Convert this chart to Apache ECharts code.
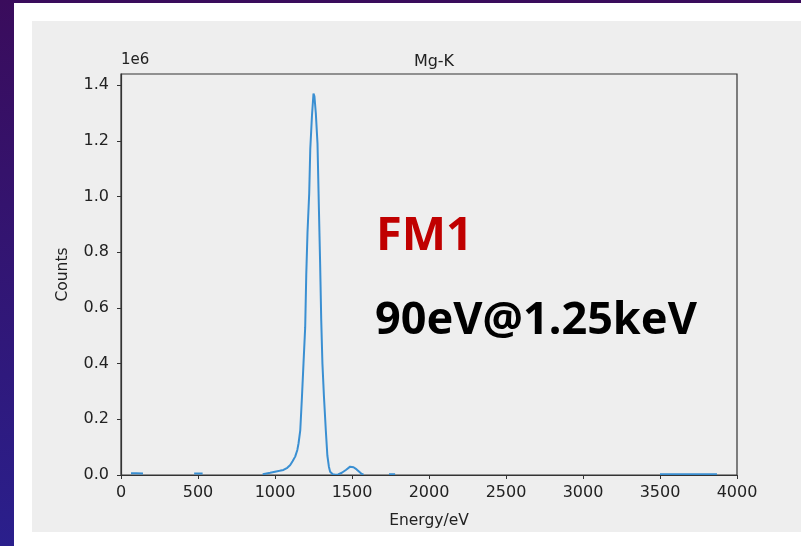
<!DOCTYPE html>
<html>
<head>
<meta charset="utf-8">
<script src="https://cdn.jsdelivr.net/npm/echarts@6/dist/echarts.min.js"></script>
<style>
html,body{margin:0;padding:0;background:#fff;}
#chart{width:801px;height:546px;}
</style>
</head>
<body>
<div id="chart"></div>
<script>
// Energy (eV) sample points and counts (in units of 1e6); null = no visible signal (hidden under axis)
var energy = [50, 65, 100, 143, 155, 460, 475, 530, 545, 880, 920, 969, 1000, 1030, 1055, 1080, 1099, 1115, 1131, 1145, 1153, 1164, 1175, 1185, 1196, 1203, 1211, 1222, 1229, 1240, 1250, 1256, 1265, 1276, 1285, 1293, 1300, 1308, 1318, 1330, 1340, 1350, 1358, 1375, 1391, 1410, 1434, 1460, 1488, 1510, 1530, 1542, 1560, 1575, 1600, 1740, 1760, 1780, 1800, 3500, 3600, 3700, 3800, 3870, 3900];
var counts = [null, 0.006, 0.006, 0.005, null, null, 0.005, 0.005, null, null, 0.003, 0.008, 0.012, 0.015, 0.018, 0.026, 0.036, 0.05, 0.066, 0.09, 0.114, 0.16, 0.28, 0.40, 0.53, 0.72, 0.87, 1.01, 1.17, 1.29, 1.37, 1.36, 1.30, 1.19, 0.96, 0.76, 0.56, 0.40, 0.28, 0.16, 0.07, 0.03, 0.012, 0.003, 0.001, 0.002, 0.008, 0.018, 0.030, 0.028, 0.02, 0.013, 0.005, 0.001, null, 0.003, 0.003, 0.003, null, 0.003, 0.003, 0.003, 0.003, 0.003, null];
var yTicks = [0, 0.2, 0.4, 0.6, 0.8, 1.0, 1.2, 1.4];
var xTicks = [0, 500, 1000, 1500, 2000, 2500, 3000, 3500, 4000];
var titleText = 'Mg-K';
var xName = 'Energy/eV';
var yName = 'Counts';
var yScaleText = '1e6';
var noteLabel = 'FM1';
var noteText = '90eV@1.25keV';

var points = energy.map(function (e, i) { return [e, counts[i]]; });

var chart = echarts.init(document.getElementById('chart'), null, {renderer: 'canvas'});
var font = 'DejaVu Sans';
chart.setOption({
  animation: false,
  backgroundColor: '#ffffff',
  graphic: [
    {type: 'rect', z: -10, shape: {x: 0, y: 0, width: 801, height: 3}, style: {fill: '#3a0c5c'}},
    {type: 'rect', z: -10, shape: {x: 0, y: 0, width: 14, height: 546},
      style: {fill: new echarts.graphic.LinearGradient(0, 0, 0, 1, [{offset: 0, color: '#3a0c5c'}, {offset: 1, color: '#2a1f8c'}])}},
    {type: 'rect', z: -9, shape: {x: 32, y: 21, width: 769, height: 511}, style: {fill: '#eeeeee'}},
    {type: 'text', left: 121, top: 53, style: {text: yScaleText, font: '15px "DejaVu Sans"', fill: '#222'}},
    {type: 'text', x: 376, y: 213, style: {text: noteLabel, font: 'bold 47px "Noto Sans"', fill: '#c00000'}},
    {type: 'text', x: 375, y: 299, style: {text: noteText, font: 'bold 45px "Noto Sans"', fill: '#000000'}}
  ],
  title: {
    text: titleText, left: 429, top: 49, textAlign: 'center',
    textStyle: {fontFamily: font, fontSize: 16, fontWeight: 'normal', color: '#222'}
  },
  grid: {left: 121, top: 74, right: 64, bottom: 71, show: true, borderColor: '#333', borderWidth: 1.2, backgroundColor: 'transparent'},
  xAxis: {
    type: 'value', min: 0, max: 4000, interval: 500, z: 5,
    name: xName, nameLocation: 'middle', nameGap: 38,
    nameTextStyle: {fontFamily: font, fontSize: 15.5, color: '#222'},
    axisLine: {show: true, lineStyle: {color: '#333', width: 1.2}},
    axisTick: {show: true, length: 4, lineStyle: {color: '#333'}, customValues: xTicks},
    axisLabel: {fontFamily: font, fontSize: 16, color: '#222', margin: 10, customValues: xTicks,
      formatter: function (v) { return String(v); }},
    splitLine: {show: false}
  },
  yAxis: {
    type: 'value', min: 0, max: 1.44, z: 5,
    name: yName, nameLocation: 'middle', nameGap: 50, nameRotate: 90,
    nameTextStyle: {fontFamily: font, fontSize: 15.5, color: '#222'},
    axisLine: {show: true, lineStyle: {color: '#333', width: 1.2}},
    axisTick: {show: true, length: 4, lineStyle: {color: '#333'}, customValues: yTicks},
    axisLabel: {fontFamily: font, fontSize: 16, color: '#222', margin: 12, customValues: yTicks,
      formatter: function (v) { return v.toFixed(1); }},
    splitLine: {show: false}
  },
  series: [{
    type: 'line', data: points, showSymbol: false, smooth: false, connectNulls: false, z: 2,
    lineStyle: {color: '#3a8fd2', width: 2}
  }]
});
</script>
</body>
</html>
